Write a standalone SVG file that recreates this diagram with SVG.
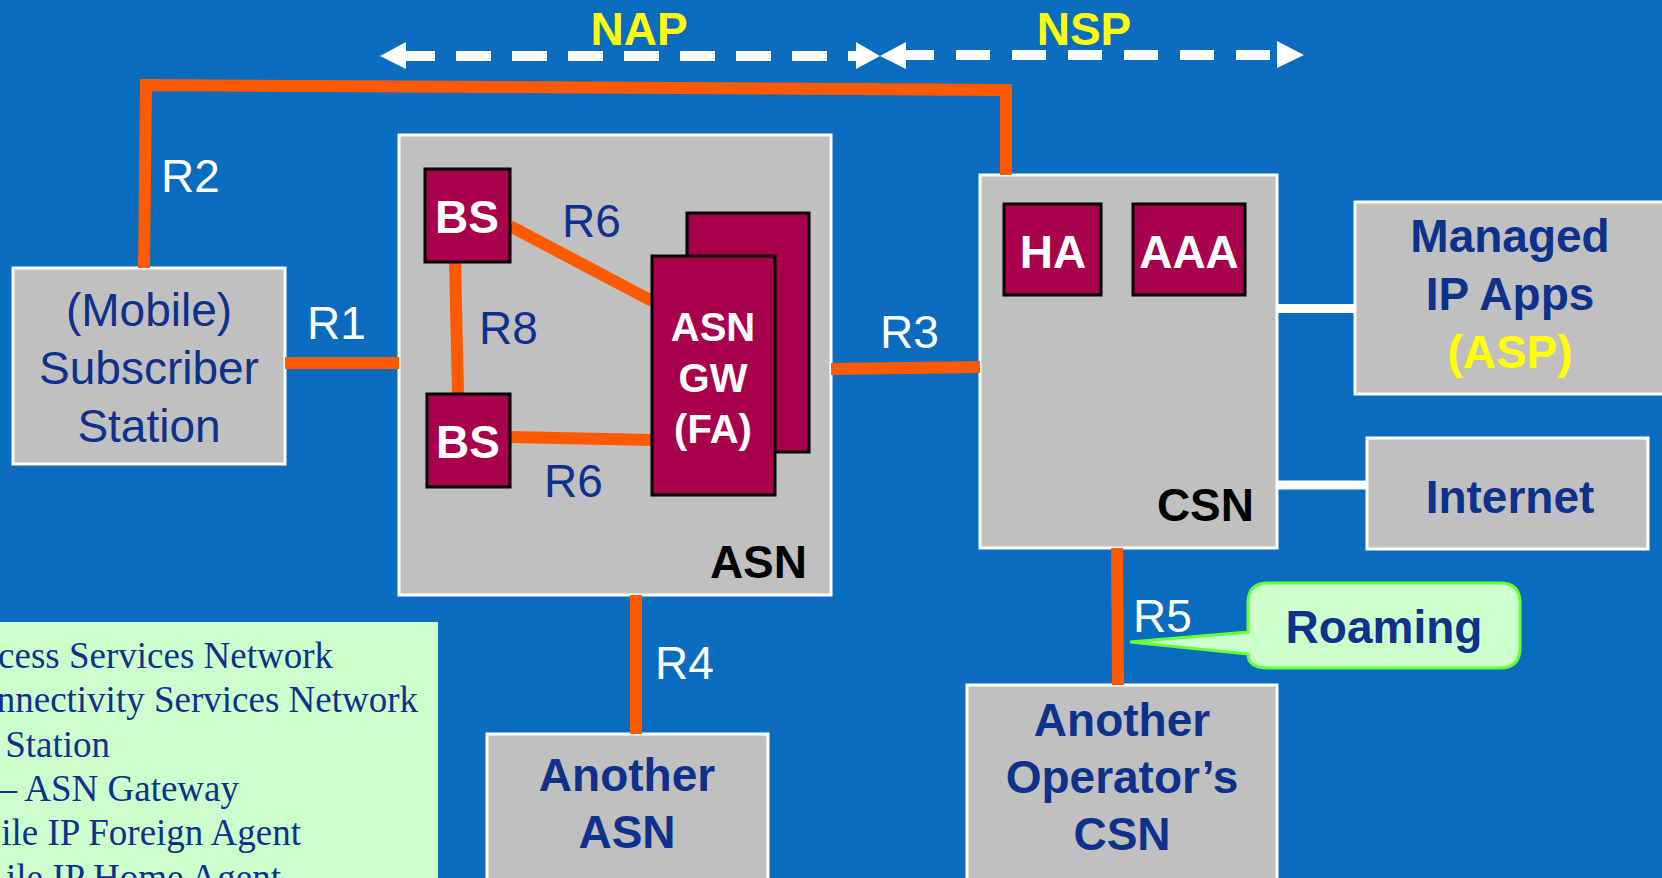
<svg xmlns="http://www.w3.org/2000/svg" width="1662" height="878" viewBox="0 0 1662 878">
<style>
.box{fill:#C0C0C0;stroke:#FFFFFF;stroke-width:3}
.red{fill:#A8004A;stroke:#000000;stroke-width:3}
.or{stroke:#FF5A00;stroke-width:12;fill:none}
.wl{stroke:#FFFFFF;stroke-width:9;fill:none}
.t{font-family:"Liberation Sans",Arial,sans-serif}
.lb{font-family:"Liberation Sans",Arial,sans-serif;font-size:46px;fill:#FFFFFF}
.lbd{font-family:"Liberation Sans",Arial,sans-serif;font-size:46px;fill:#0E318C}
.nb{font-family:"Liberation Sans",Arial,sans-serif;font-size:46px;font-weight:bold;fill:#0E318C;text-anchor:middle}
.wb{font-family:"Liberation Sans",Arial,sans-serif;font-weight:bold;fill:#FFFFFF;text-anchor:middle}
.kb{font-family:"Liberation Sans",Arial,sans-serif;font-size:46px;font-weight:bold;fill:#000000;text-anchor:end}
.leg{font-family:"Liberation Serif","Times New Roman",serif;font-size:37px;fill:#0E318C;text-anchor:end}
.dash{stroke:#FFFFFF;stroke-width:10;fill:none}
</style>
<rect x="0" y="0" width="1662" height="878" fill="#0A6CBF"/>

<g id="nap-nsp">
<line class="dash" x1="400" y1="56" x2="860" y2="56" stroke-dasharray="35 21"/>
<polygon points="380,56 406,42 406,69" fill="#FFFFFF"/>
<polygon points="856,42 880,56 856,69" fill="#FFFFFF"/>
<polygon points="906,42 880,56 906,69" fill="#FFFFFF"/>
<line class="dash" x1="900" y1="55" x2="1278" y2="55" stroke-dasharray="34 22"/>
<polygon points="1277,41 1304,55 1277,68" fill="#FFFFFF"/>
<text class="t" x="639" y="45" font-size="46" font-weight="bold" fill="#FFFF00" text-anchor="middle">NAP</text>
<text class="t" x="1084" y="45" font-size="46" font-weight="bold" fill="#FFFF00" text-anchor="middle">NSP</text>
</g>

<g id="mobile">
<rect class="box" x="13" y="268" width="272" height="196"/>
<text class="lbd" x="149" y="326" text-anchor="middle" font-size="47">(Mobile)</text>
<text class="lbd" x="149" y="384" text-anchor="middle" font-size="47">Subscriber</text>
<text class="lbd" x="149" y="442" text-anchor="middle" font-size="47">Station</text>
</g>

<g id="asn">
<rect class="box" x="399" y="135" width="432" height="460"/>
<text class="kb" x="807" y="578">ASN</text>
</g>

<g id="csn">
<rect class="box" x="980" y="175" width="297" height="373"/>
<text class="kb" x="1254" y="521">CSN</text>
</g>

<g id="managed">
<rect class="box" x="1355" y="202" width="320" height="192"/>
<text class="nb" x="1510" y="252">Managed</text>
<text class="nb" x="1510" y="310">IP Apps</text>
<text class="nb" x="1510" y="368" style="fill:#FFFF00">(ASP)</text>
</g>

<g id="internet">
<rect class="box" x="1367" y="438" width="281" height="111"/>
<text class="nb" x="1510" y="513">Internet</text>
</g>

<g id="another-asn">
<rect class="box" x="487" y="734" width="281" height="160"/>
<text class="nb" x="627" y="791" font-size="48">Another</text>
<text class="nb" x="627" y="848" font-size="48">ASN</text>
</g>

<g id="another-csn">
<rect class="box" x="967" y="685" width="310" height="200"/>
<text class="nb" x="1122" y="736" font-size="47">Another</text>
<text class="nb" x="1122" y="793" font-size="47">Operator’s</text>
<text class="nb" x="1122" y="850" font-size="47">CSN</text>
</g>

<g id="legend">
<rect x="-5" y="622" width="443" height="270" fill="#CCFFCC"/>
<text class="leg" x="333" y="668">cess Services Network</text>
<text class="leg" x="418" y="712">nnectivity Services Network</text>
<text class="leg" x="110" y="757">Station</text>
<text class="leg" x="239" y="801">– ASN Gateway</text>
<text class="leg" x="301" y="845">ile IP Foreign Agent</text>
<text class="leg" x="281" y="890">ile IP Home Agent</text>
</g>

<g id="connectors">
<polyline class="or" points="144,268 146,85 1006,90 1006,175" stroke-width="11" stroke-linejoin="miter"/>
<line class="or" x1="285" y1="363" x2="399" y2="363"/>
<line class="or" x1="455" y1="262" x2="458" y2="394"/>
<line class="or" x1="510" y1="226" x2="652" y2="301"/>
<line class="or" x1="510" y1="437" x2="652" y2="440"/>
<line class="or" x1="831" y1="369" x2="980" y2="367"/>
<line class="or" x1="636" y1="595" x2="636" y2="734" stroke-width="13"/>
<line class="or" x1="1117" y1="548" x2="1118" y2="685"/>
<line class="wl" x1="1277" y1="308.5" x2="1355" y2="308.5"/>
<line class="wl" x1="1277" y1="485" x2="1367" y2="485"/>
<text class="lb" x="161" y="192">R2</text>
<text class="lb" x="307" y="339">R1</text>
<text class="lbd" x="479" y="344">R8</text>
<text class="lbd" x="562" y="237">R6</text>
<text class="lbd" x="544" y="497">R6</text>
<text class="lb" x="880" y="348">R3</text>
<text class="lb" x="655" y="679">R4</text>
<text class="lb" x="1133" y="632">R5</text>
</g>

<g id="bs-top">
<rect class="red" x="425" y="169" width="85" height="93"/>
<text class="wb" x="467" y="233" font-size="46">BS</text>
</g>

<g id="bs-bottom">
<rect class="red" x="427" y="394" width="83" height="93"/>
<text class="wb" x="468" y="458" font-size="46">BS</text>
</g>

<g id="asn-gw">
<rect class="red" x="687" y="213" width="122" height="239"/>
<rect class="red" x="652" y="256" width="123" height="239"/>
<text class="wb" x="713" y="341" font-size="40">ASN</text>
<text class="wb" x="713" y="392" font-size="40">GW</text>
<text class="wb" x="713" y="443" font-size="40">(FA)</text>
</g>

<g id="ha">
<rect class="red" x="1004" y="204" width="97" height="91"/>
<text class="wb" x="1053" y="268" font-size="46">HA</text>
</g>

<g id="aaa">
<rect class="red" x="1133" y="204" width="112" height="91"/>
<text class="wb" x="1189" y="268" font-size="46">AAA</text>
</g>

<g id="roaming">
<path d="M1268,583 H1500 Q1520,583 1520,603 V648 Q1520,668 1500,668 H1268 Q1248,668 1248,654 L1130,642 L1248,632 V603 Q1248,583 1268,583 Z" fill="#CCFFCC" stroke="#66FF33" stroke-width="3"/>
<text class="nb" x="1384" y="643">Roaming</text>
</g>
</svg>
